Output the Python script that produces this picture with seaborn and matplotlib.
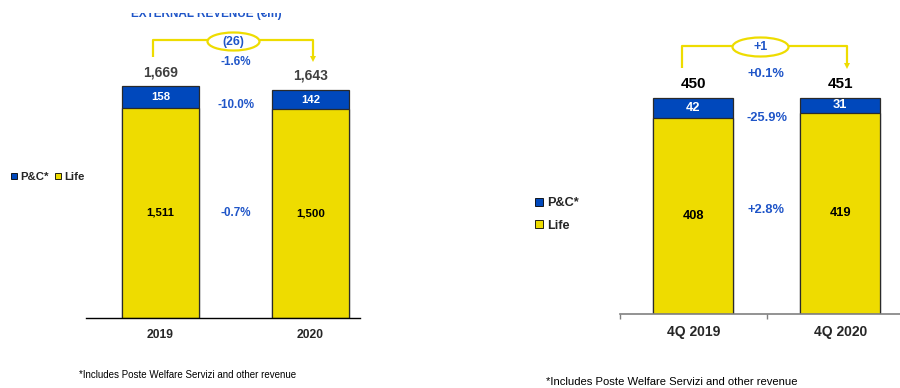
import matplotlib
matplotlib.use("Agg")
import matplotlib.pyplot as plt
import seaborn as sns
import pandas as pd
from matplotlib.transforms import Affine2D
from matplotlib.lines import Line2D
from matplotlib.patches import Ellipse, Rectangle

sns.set_style("white")
plt.rcParams["font.family"] = ["Liberation Sans", "DejaVu Sans"]

# ---------------- data ----------------
years = ["2019", "2020"]
pc_year = [158, 142]
life_year = [1511, 1500]
total_year = [1669, 1643]
delta_year = "(26)"
pct_total_year = "-1.6%"
pct_pc_year = "-10.0%"
pct_life_year = "-0.7%"

quarters = ["4Q 2019", "4Q 2020"]
pc_q = [42, 31]
life_q = [408, 419]
total_q = [450, 451]
delta_q = "+1"
pct_total_q = "+0.1%"
pct_pc_q = "-25.9%"
pct_life_q = "+2.8%"

series_names = ["P&C*", "Life"]
title = "EXTERNAL REVENUE (€m)"
footnote = "*Includes Poste Welfare Servizi and other revenue"

BLUE = "#0048BC"
YELLOW = "#EEDC00"
TXT_BLUE = "#1F55C8"
EDGE = "#2a2a2a"

W, H = 900, 388
fig = plt.figure(figsize=(W / 100, H / 100), dpi=100)
PX = Affine2D().scale(1, -1).translate(0, H)  # pixel coords from top-left


def ftext(x, y, s, **kw):
    fig.text(x, y, s, transform=PX, **kw)


def draw_panel(ax, cats, pc, life, total, width, ylim, xlim, sizes, total_color):
    df = pd.DataFrame({"cat": cats, "total": total, "life": life, "pc": pc})
    sns.barplot(data=df, x="cat", y="total", color=BLUE, saturation=1, width=width,
                edgecolor=EDGE, linewidth=0.9, ax=ax)
    sns.barplot(data=df, x="cat", y="life", color=YELLOW, saturation=1, width=width,
                edgecolor=EDGE, linewidth=0.9, ax=ax)
    ax.set_xlim(*xlim)
    ax.set_ylim(0, ylim)
    ax.set_xlabel("")
    ax.set_ylabel("")
    ax.set_yticks([])
    for s in ["top", "right", "left"]:
        ax.spines[s].set_visible(False)
    ax.patch.set_alpha(0)
    fs_total, fs_in = sizes
    for i in range(len(cats)):
        ax.annotate(f"{total[i]:,}", (i, total[i]), xytext=(0, 5), textcoords="offset points",
                    ha="center", va="bottom", fontsize=fs_total, fontweight="bold",
                    color=total_color)
        ax.text(i, life[i] + (total[i] - life[i]) / 2, f"{pc[i]:,}", ha="center", va="center",
                fontsize=fs_in, fontweight="bold", color="white")
        ax.text(i, life[i] / 2, f"{life[i]:,}", ha="center", va="center",
                fontsize=fs_in, fontweight="bold", color="black")


# ---------------- left panel ----------------
ax1 = fig.add_axes([86 / W, (H - 318) / H, 274 / W, 318 / H])
draw_panel(ax1, years, pc_year, life_year, total_year, 0.513, 318 / 0.139,
           (-0.497, 1.33), (10, 8.2), "#404040")
ax1.set_xticks([0, 1])
ax1.set_xticklabels(years, fontsize=8.7, fontweight="bold")
ax1.tick_params(axis="x", length=0, pad=8)
ax1.spines["bottom"].set_color("black")
ax1.spines["bottom"].set_linewidth(1.0)

# ---------------- right panel ----------------
ax2 = fig.add_axes([620 / W, (H - 314) / H, 280 / W, 314 / H])
draw_panel(ax2, quarters, pc_q, life_q, total_q, 0.544, 314 / 0.48,
           (-0.497, 1.408), (11, 9.3), "black")
ax2.set_xticks([0, 1])
ax2.set_xticklabels(quarters, fontsize=10, fontweight="bold")
ax2.set_xticks([-0.5, 0.5], minor=True)
ax2.tick_params(axis="x", which="major", length=0, pad=8)
ax2.tick_params(axis="x", which="minor", length=3.5, width=1, color="#808080", bottom=True)
ax2.spines["bottom"].set_color("#808080")
ax2.spines["bottom"].set_linewidth(1.2)

# ---------------- percent labels ----------------
ftext(236, 62, pct_total_year, ha="center", va="center", fontsize=8.4, fontweight="bold", color=TXT_BLUE)
ftext(236, 105, pct_pc_year, ha="center", va="center", fontsize=8.4, fontweight="bold", color=TXT_BLUE)
ftext(236, 213, pct_life_year, ha="center", va="center", fontsize=8.4, fontweight="bold", color=TXT_BLUE)
ftext(766, 74, pct_total_q, ha="center", va="center", fontsize=9.3, fontweight="bold", color=TXT_BLUE)
ftext(767, 118, pct_pc_q, ha="center", va="center", fontsize=9.3, fontweight="bold", color=TXT_BLUE)
ftext(766, 210, pct_life_q, ha="center", va="center", fontsize=9.3, fontweight="bold", color=TXT_BLUE)


# ---------------- brackets ----------------
def bracket(x0, y0, ytop, x1, ytip, ecx, ecy, ew, eh, label, fs):
    fig.add_artist(Line2D([x0, x0, ecx - ew / 2], [y0, ytop, ytop], transform=PX,
                          color=YELLOW, lw=1.6, solid_capstyle="butt"))
    fig.add_artist(Line2D([ecx + ew / 2, x1, x1], [ytop, ytop, ytip - 5], transform=PX,
                          color=YELLOW, lw=1.6, solid_capstyle="butt"))
    fig.add_artist(Line2D([x1], [ytip - 2.5], transform=PX, marker="v", markersize=5,
                          color=YELLOW, markeredgewidth=0, linestyle="none"))
    fig.add_artist(Ellipse((ecx, ecy), ew, eh, transform=PX, facecolor="white",
                           edgecolor=YELLOW, lw=1.6))
    ftext(ecx, ecy, label, ha="center", va="center", fontsize=fs, fontweight="bold", color=TXT_BLUE)


bracket(153, 57, 39.5, 313, 61, 233.5, 41.5, 52, 18, delta_year, 8.8)
bracket(682, 68, 46, 847, 68, 760.5, 47, 56, 19, delta_q, 9)

# ---------------- legends ----------------
def handles(ms, mew):
    return [Line2D([], [], marker="s", linestyle="none", markersize=ms, markerfacecolor=c,
                   markeredgecolor="black", markeredgewidth=mew) for c in (BLUE, YELLOW)]


fig.legend(handles(4.4, 0.6), series_names, loc="center left",
           bbox_to_anchor=(9 / W, (H - 177) / H), ncol=2, frameon=False,
           handlelength=0.85, handletextpad=0.15, columnspacing=0.35, borderpad=0,
           borderaxespad=0, prop={"weight": "bold", "size": 8.2})
fig.legend(handles(5.4, 0.6), series_names, loc="upper left",
           bbox_to_anchor=(533 / W, (H - 197) / H), ncol=1, frameon=False,
           handlelength=0.95, handletextpad=0.15, labelspacing=0.85, borderpad=0,
           borderaxespad=0, prop={"weight": "bold", "size": 9.2})

# ---------------- title (cropped at top) & footnotes ----------------
ftext(131, 16.5, title, ha="left", va="baseline", fontsize=8.5, color="#1F55C8", fontweight="bold")
fig.add_artist(Rectangle((110, 0), 200, 13, transform=PX, facecolor="white", edgecolor="none", zorder=10))

ftext(79, 375, footnote, ha="left", va="center", fontsize=7, color="black")
ftext(546, 382, footnote, ha="left", va="center", fontsize=8.1, color="black")

fig.savefig("out.png", dpi=100)
